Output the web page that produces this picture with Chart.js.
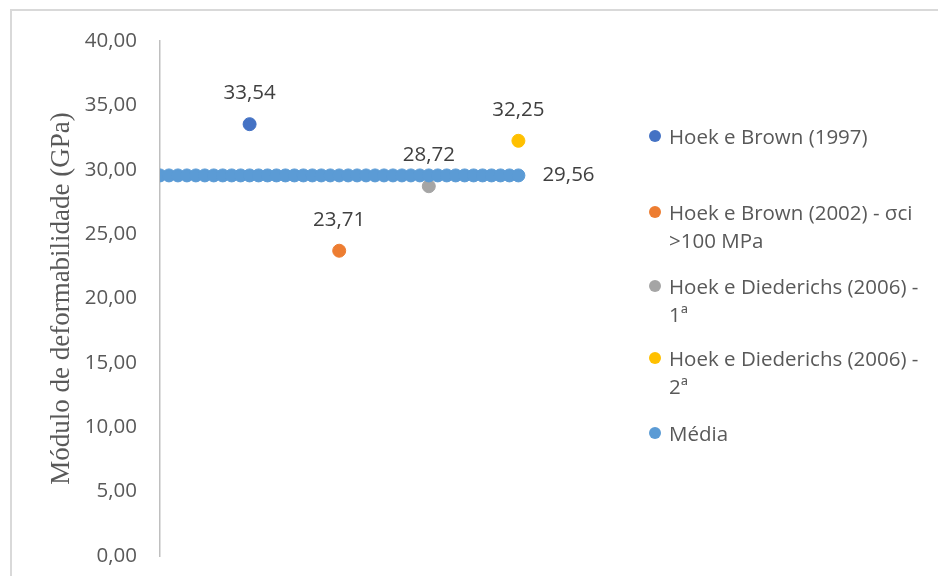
<!DOCTYPE html>
<html>
<head>
<meta charset="utf-8">
<script src="https://cdn.jsdelivr.net/npm/chart.js@4.4.1/dist/chart.umd.min.js"></script>
<style>
  html, body { margin: 0; padding: 0; background: #fff; overflow: hidden; }
  #wrap { position: relative; width: 938px; height: 576px; }
  #frame { position: absolute; left: 10px; top: 9px; width: 1000px; height: 700px;
           border: 2px solid #d9d9d9; box-sizing: border-box; pointer-events: none; }
  canvas { position: absolute; left: 0; top: 0; }
  .lg { position: absolute; left: 647px; width: 285px; font-family: "Open Sans", sans-serif;
        font-size: 20.5px; line-height: 28px; color: #595959; }
  .lg .dot { position: absolute; left: 2px; top: 8px; width: 12px; height: 12px; border-radius: 50%; }
  .lg .txt { margin-left: 22px; }
</style>
</head>
<body>
<div id="wrap">
  <div id="frame"></div>
  <canvas id="c" width="938" height="576"></canvas>
</div>
<script>
// Deformability modulus estimates (GPa) by method
const methods = [
  "Hoek e Brown (1997)",
  "Hoek e Brown (2002) - σci >100 MPa",
  "Hoek e Diederichs (2006) - 1ª",
  "Hoek e Diederichs (2006) - 2ª"
];
const methodX = [1, 2, 3, 4];
const methodValues = [33.54, 23.71, 28.72, 32.25];
const methodColors = ["#4472C4", "#ED7D31", "#A5A5A5", "#FFC000"];

// Mean value, drawn as a row of markers across the methods
const mediaLabel = "Média";
const mediaValue = 29.56;
const mediaX = [0, 0.1, 0.2, 0.3, 0.4, 0.5, 0.6, 0.7, 0.8, 0.9,
                1, 1.1, 1.2, 1.3, 1.4, 1.5, 1.6, 1.7, 1.8, 1.9,
                2, 2.1, 2.2, 2.3, 2.4, 2.5, 2.6, 2.7, 2.8, 2.9,
                3, 3.1, 3.2, 3.3, 3.4, 3.5, 3.6, 3.7, 3.8, 3.9, 4];
const mediaColor = "#5B9BD5";

const yTicks = [0, 5, 10, 15, 20, 25, 30, 35, 40];
const yTitle = "Módulo de deformabilidade (GPa)";

const fmt = v => v.toFixed(2).replace(".", ",");

const datasets = methods.map((name, i) => ({
  label: name,
  data: [{ x: methodX[i], y: methodValues[i] }],
  backgroundColor: methodColors[i],
  borderColor: methodColors[i],
  pointRadius: 6.5,
  pointHoverRadius: 6.5,
  order: 1,
  valueLabel: "above"
}));
datasets.push({
  label: mediaLabel,
  data: mediaX.map(x => ({ x: x, y: mediaValue })),
  backgroundColor: mediaColor,
  borderColor: mediaColor,
  pointRadius: 6.5,
  pointHoverRadius: 6.5,
  order: 0,
  valueLabel: "lastRight"
});

// Value labels next to the markers
const valueLabels = {
  id: "valueLabels",
  afterDatasetsDraw(chart) {
    const ctx = chart.ctx;
    ctx.save();
    ctx.font = '20.5px "Open Sans", sans-serif';
    ctx.fillStyle = "#404040";
    ctx.textBaseline = "middle";
    chart.data.datasets.forEach((ds, di) => {
      const meta = chart.getDatasetMeta(di);
      if (ds.valueLabel === "above") {
        meta.data.forEach((pt, k) => {
          ctx.textAlign = "center";
          ctx.fillText(fmt(ds.data[k].y), pt.x, pt.y - 31);
        });
      } else if (ds.valueLabel === "lastRight") {
        const k = meta.data.length - 1;
        const pt = meta.data[k];
        ctx.textAlign = "left";
        ctx.fillText(fmt(ds.data[k].y), pt.x + 24, pt.y);
      }
    });
    ctx.restore();
  }
};

new Chart(document.getElementById("c"), {
  type: "scatter",
  data: { datasets: datasets },
  options: {
    responsive: false,
    animation: false,
    layout: { padding: { left: 0, right: 330, top: 41, bottom: 20 } },
    plugins: { legend: { display: false }, tooltip: { enabled: false } },
    scales: {
      x: { type: "linear", min: 0, max: 5, display: false },
      y: {
        type: "linear", min: 0, max: 40,
        afterBuildTicks: s => { s.ticks = yTicks.map(v => ({ value: v })); },
        afterFit: s => { s.width = 160; s.paddingTop = 0; s.paddingBottom = 0; },
        grid: { display: false, drawTicks: false },
        border: { display: true, color: "#bfbfbf", width: 1.5 },
        ticks: {
          padding: 23,
          color: "#595959",
          font: { family: "Open Sans", size: 20.5 },
          callback: v => fmt(v)
        },
        title: {
          display: true,
          text: yTitle,
          color: "#595959",
          font: { family: "Liberation Serif", size: 27 },
          padding: { top: 46, bottom: 0 }
        }
      }
    }
  },
  plugins: [valueLabels]
});

// Legend beside the plot
const legendItems = methods.map((m, i) => ({ label: m, color: methodColors[i] }))
  .concat([{ label: mediaLabel, color: mediaColor }]);
const legendTops = [122, 198, 272, 344, 419];
const wrap = document.getElementById("wrap");
legendItems.forEach((it, i) => {
  const d = document.createElement("div");
  d.className = "lg";
  d.style.top = legendTops[i] + "px";
  const dot = document.createElement("span");
  dot.className = "dot";
  dot.style.background = it.color;
  const t = document.createElement("div");
  t.className = "txt";
  t.textContent = it.label;
  d.appendChild(dot);
  d.appendChild(t);
  wrap.appendChild(d);
});
</script>
</body>
</html>
